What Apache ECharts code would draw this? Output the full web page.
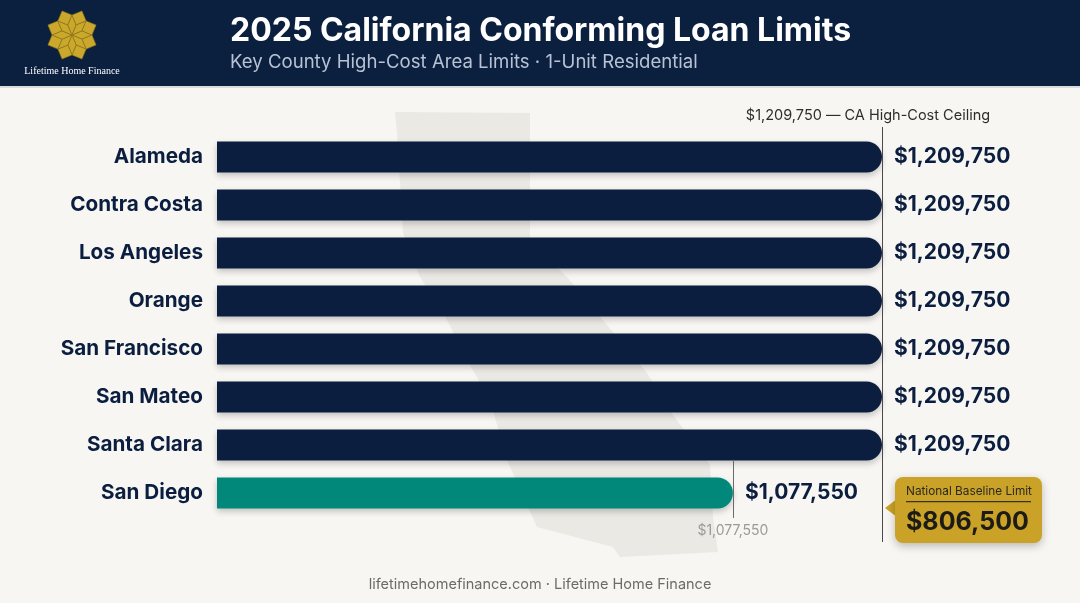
<!DOCTYPE html>
<html>
<head>
<meta charset="utf-8">
<script src="https://cdn.jsdelivr.net/npm/echarts@6/dist/echarts.min.js"></script>
<style>
  html, body { margin: 0; padding: 0; background: #f7f6f2; }
  #chart { width: 1080px; height: 603px; }
</style>
</head>
<body>
<div id="chart"></div>
<script>
// data
var counties = ['Alameda', 'Contra Costa', 'Los Angeles', 'Orange', 'San Francisco', 'San Mateo', 'Santa Clara', 'San Diego'];
var loanLimits = [1209750, 1209750, 1209750, 1209750, 1209750, 1209750, 1209750, 1077550];
var highCostCeiling = 1209750;
var sanDiegoLimit = 1077550;
var baselineLimit = 806500;
var highlightCounty = 'San Diego';

var NAVY = '#0b1e40';
var TEAL = '#02877b';
var GOLD = '#c9a227';
var FONT = 'Inter';

function money(v) {
  return '$' + v.toLocaleString('en-US');
}

// logo star (8 rhombi + 8 squares) around a centre point
function logoShapes(cx, cy, s) {
  var out = [];
  function u(deg, len) {
    var r = deg * Math.PI / 180;
    return [Math.cos(r) * len, Math.sin(r) * len];
  }
  for (var i = 0; i < 8; i++) {
    var th = i * 45;
    var a = u(th - 22.5, s), b = u(th + 22.5, s);
    var tip = [a[0] + b[0], a[1] + b[1]];
    out.push([[cx, cy], [cx + a[0], cy + a[1]], [cx + tip[0], cy + tip[1]], [cx + b[0], cy + b[1]]]);
    // square between this rhombus and the next
    var c = u(th + 67.5, s);
    var nextTip = [b[0] + c[0], b[1] + c[1]];
    var corner = [tip[0] + c[0], tip[1] + c[1]];
    out.push([[cx + b[0], cy + b[1]], [cx + tip[0], cy + tip[1]], [cx + corner[0], cy + corner[1]], [cx + nextTip[0], cy + nextTip[1]]]);
  }
  return out.map(function (pts) {
    return {
      type: 'polygon',
      shape: { points: pts },
      style: { fill: '#c9a82c', stroke: '#8f7216', lineWidth: 0.6 }
    };
  });
}

// faint state outline behind the bars (decoration only)
var stateOutline = [[395,112],[530,113],[530,240],[567,277],[647,373],[673,415],[710,465],[713,517],[718,552],
  [620,557],[613,547],[537,527],[507,460],[490,400],[467,360],[447,320],[420,277],[403,233],[397,133]];

var chart = echarts.init(document.getElementById('chart'));

var option = {
  backgroundColor: '#f7f6f2',
  textStyle: { fontFamily: FONT },
  title: {
    text: '2025 California Conforming Loan Limits',
    subtext: 'Key County High-Cost Area Limits · 1-Unit Residential',
    left: 225,
    top: 10,
    itemGap: 6,
    textStyle: { color: '#ffffff', fontSize: 32, fontWeight: 'bold', fontFamily: FONT },
    subtextStyle: { color: '#b7c2d4', fontSize: 18.6, fontFamily: FONT }
  },
  graphic: [
    { type: 'rect', z: -10, shape: { x: 0, y: 0, width: 1080, height: 86 }, style: { fill: '#0b1f3f' } },
    { type: 'rect', z: -10, shape: { x: 0, y: 86, width: 1080, height: 2 }, style: { fill: '#d9dce1' } },
    { type: 'polygon', z: -10, shape: { points: stateOutline }, style: { fill: '#ebe9e4' } },
    {
      type: 'group', z: -5,
      children: logoShapes(72, 35, 10.8)
    },
    {
      type: 'text', z: 5, x: 72, y: 71,
      style: { text: 'Lifetime Home Finance', fill: '#ffffff', font: '10px "Liberation Serif", serif', textAlign: 'center', textVerticalAlign: 'middle' }
    },
    // baseline callout
    {
      type: 'group', z: 5,
      children: [
        {
          type: 'polygon',
          shape: { points: [[885, 508], [897, 499], [897, 517]] },
          style: { fill: GOLD }
        },
        {
          type: 'rect',
          shape: { x: 895, y: 477, width: 147, height: 66, r: 8 },
          style: { fill: GOLD, shadowBlur: 8, shadowOffsetY: 3, shadowColor: 'rgba(0,0,0,0.25)' }
        },
        {
          type: 'text', x: 906, y: 491,
          style: { text: 'National Baseline Limit', fill: '#2b2a22', font: '11.8px Inter', textVerticalAlign: 'middle' }
        },
        {
          type: 'rect',
          shape: { x: 906, y: 501, width: 125, height: 1.2 },
          style: { fill: '#3a3320' }
        },
        {
          type: 'text', x: 906, y: 522,
          style: { text: money(baselineLimit), fill: '#1c1b17', font: 'bold 25px Inter', textVerticalAlign: 'middle' }
        }
      ]
    },
    {
      type: 'text', x: 540, y: 585,
      style: { text: 'lifetimehomefinance.com · Lifetime Home Finance', fill: '#6b6b6b', font: '14.5px Inter', textAlign: 'center', textVerticalAlign: 'middle' }
    }
  ],
  grid: [
    { left: 217, right: 198, top: 133, bottom: 86 },
    { left: 217, right: 198, top: 127, bottom: 61 }
  ],
  xAxis: [
    { type: 'value', gridIndex: 0, min: 620000, max: highCostCeiling, show: false },
    { type: 'value', gridIndex: 1, min: 620000, max: highCostCeiling, show: false }
  ],
  yAxis: [
    {
      type: 'category', gridIndex: 0, data: counties, inverse: true,
      axisLine: { show: false }, axisTick: { show: false }, splitLine: { show: false },
      axisLabel: { fontSize: 20.7, fontWeight: 'bold', color: NAVY, margin: 14, fontFamily: FONT }
    },
    { type: 'value', gridIndex: 1, min: 0, max: 1, show: false }
  ],
  series: [
    {
      type: 'bar',
      xAxisIndex: 0, yAxisIndex: 0,
      barWidth: 31,
      data: loanLimits,
      itemStyle: {
        color: function (p) { return p.name === highlightCounty ? TEAL : NAVY; },
        borderRadius: [0, 16, 16, 0],
        shadowBlur: 6,
        shadowOffsetY: 3,
        shadowColor: 'rgba(0,0,0,0.22)'
      },
      label: {
        show: true,
        position: 'right',
        distance: 12,
        fontSize: 21,
        fontWeight: 'bold',
        color: NAVY,
        fontFamily: FONT,
        formatter: function (p) { return money(p.value); }
      }
    },
    {
      type: 'line',
      xAxisIndex: 1, yAxisIndex: 1,
      data: [],
      markLine: {
        silent: true,
        symbol: 'none',
        animation: false,
        data: [
          [
            { coord: [highCostCeiling, 0], lineStyle: { color: '#4a4a4a', width: 1, type: 'solid' },
              label: { show: true, position: 'end', distance: 4, padding: [0, 28, 0, 0], fontSize: 14.5, color: '#2e2e2e', fontFamily: FONT,
                formatter: money(highCostCeiling) + ' — CA High-Cost Ceiling' } },
            { coord: [highCostCeiling, 1] }
          ],
          [
            { coord: [sanDiegoLimit, 0.058], lineStyle: { color: '#6a6a6a', width: 1, type: 'solid' },
              label: { show: true, position: 'start', distance: 6, fontSize: 14, color: '#9a9a9a', fontFamily: FONT,
                formatter: money(sanDiegoLimit) } },
            { coord: [sanDiegoLimit, 0.198] }
          ]
        ]
      }
    }
  ]
};

chart.setOption(option);
</script>
</body>
</html>
